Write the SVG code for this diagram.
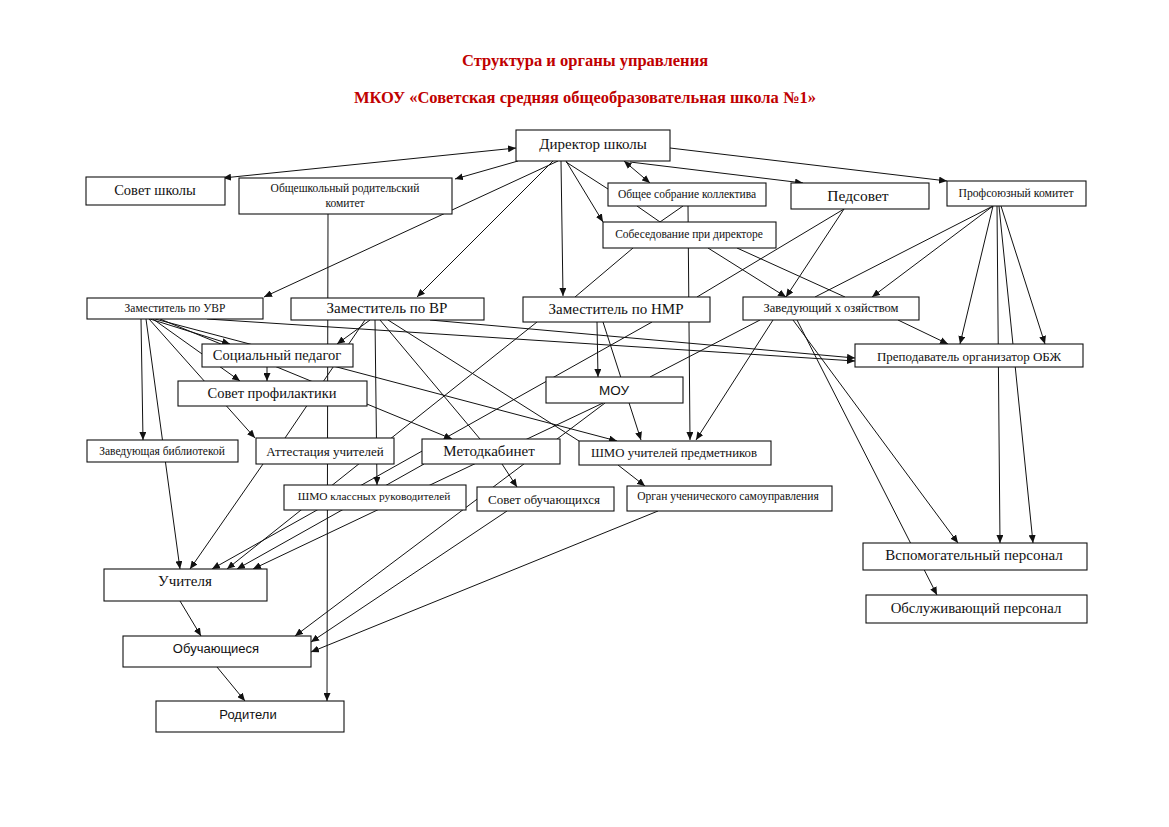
<svg xmlns="http://www.w3.org/2000/svg" width="1169" height="827" viewBox="0 0 1169 827">
<style>
.t{font-family:"Liberation Serif","Times New Roman",serif;fill:#111;text-anchor:middle;dominant-baseline:central}
.s{font-family:"Liberation Sans",Arial,sans-serif;fill:#111;text-anchor:middle;dominant-baseline:central}
.h{font-family:"Liberation Serif","Times New Roman",serif;fill:#c00000;font-weight:bold;font-size:16.5px;text-anchor:middle}
rect{fill:#fff;stroke:#111;stroke-width:1.1}
#connectors line{stroke:#111;stroke-width:1}
.e{marker-end:url(#ah)}
.b{marker-end:url(#ah);marker-start:url(#ah)}
</style>
<defs>
<marker id="ah" viewBox="0 0 8 7" refX="8" refY="3.5" markerWidth="8" markerHeight="7" markerUnits="userSpaceOnUse" orient="auto-start-reverse"><path d="M0,0 L8,3.5 L0,7 z" fill="#111"/></marker>
</defs>
<rect x="0" y="0" width="1169" height="827" style="fill:#fff;stroke:none"/>
<g id="title">
<text class="h" x="585" y="66">Структура и органы управления</text>
<text class="h" x="585" y="103">МКОУ «Советская средняя общеобразовательная школа №1»</text>
</g>
<g id="connectors">
<line class="b" x1="223" y1="178" x2="516" y2="148"/>
<line class="e" x1="518" y1="161" x2="455" y2="179"/>
<line class="e" x1="558" y1="161" x2="264" y2="297"/>
<line class="e" x1="553" y1="161" x2="417" y2="297"/>
<line class="e" x1="561" y1="161" x2="563" y2="296"/>
<line class="e" x1="566" y1="161" x2="603" y2="222"/>
<line x1="566" y1="162" x2="608" y2="189"/>
<line class="b" x1="624" y1="161" x2="650" y2="183"/>
<line class="e" x1="630" y1="162" x2="803" y2="183"/>
<line class="e" x1="670" y1="148" x2="947" y2="181"/>
<line x1="637" y1="206" x2="660" y2="222"/>
<line x1="683" y1="206" x2="660" y2="222"/>
<line class="e" x1="688" y1="206" x2="690" y2="440"/>
<line x1="633" y1="248" x2="575" y2="297"/>
<line class="e" x1="708" y1="248" x2="786" y2="297"/>
<line x1="737" y1="248" x2="845" y2="297"/>
<line x1="844" y1="209" x2="697" y2="297"/>
<line class="e" x1="844" y1="209" x2="786" y2="297"/>
<line x1="993" y1="206" x2="815" y2="297"/>
<line class="e" x1="993" y1="206" x2="872" y2="297"/>
<line class="e" x1="993" y1="206" x2="960" y2="344"/>
<line class="e" x1="997" y1="206" x2="1000" y2="543"/>
<line class="e" x1="999" y1="206" x2="1033" y2="543"/>
<line class="e" x1="1001" y1="206" x2="1045" y2="344"/>
<line x1="760" y1="320" x2="650" y2="377"/>
<line class="e" x1="773" y1="320" x2="696" y2="440"/>
<line class="e" x1="898" y1="320" x2="948" y2="344"/>
<line class="e" x1="793" y1="320" x2="958" y2="543"/>
<line class="e" x1="797" y1="320" x2="937" y2="595"/>
<line class="e" x1="141" y1="319" x2="143" y2="440"/>
<line class="e" x1="146" y1="319" x2="180" y2="569"/>
<line class="e" x1="150" y1="319" x2="230" y2="344"/>
<line class="e" x1="153" y1="319" x2="240" y2="381"/>
<line class="e" x1="149" y1="319" x2="255" y2="438"/>
<line class="e" x1="155" y1="319" x2="617" y2="441"/>
<line class="e" x1="160" y1="319" x2="452" y2="439"/>
<line class="e" x1="207" y1="319" x2="855" y2="361"/>
<line class="e" x1="267" y1="367" x2="267" y2="381"/>
<line class="e" x1="370" y1="320" x2="337" y2="344"/>
<line x1="365" y1="320" x2="285" y2="438"/>
<line class="e" x1="375" y1="320" x2="377" y2="485"/>
<line x1="380" y1="320" x2="480" y2="439"/>
<line x1="388" y1="320" x2="579" y2="441"/>
<line class="e" x1="430" y1="320" x2="855" y2="358"/>
<line class="e" x1="597" y1="322" x2="598" y2="377"/>
<line class="e" x1="603" y1="322" x2="641" y2="440"/>
<line class="e" x1="537" y1="322" x2="227" y2="569"/>
<line class="e" x1="652" y1="322" x2="212" y2="569"/>
<line class="e" x1="603" y1="403" x2="253" y2="569"/>
<line class="e" x1="605" y1="403" x2="295" y2="636"/>
<line class="e" x1="263" y1="464" x2="190" y2="569"/>
<line class="e" x1="424" y1="464" x2="237" y2="569"/>
<line class="e" x1="502" y1="464" x2="517" y2="487"/>
<line class="e" x1="618" y1="465" x2="645" y2="486"/>
<line class="e" x1="507" y1="511" x2="311" y2="642"/>
<line class="e" x1="658" y1="511" x2="311" y2="652"/>
<line class="e" x1="180" y1="601" x2="201" y2="636"/>
<line class="e" x1="217" y1="667" x2="245" y2="701"/>
<line class="e" x1="328" y1="214" x2="327" y2="701"/>
</g>
<g id="n-director"><rect x="516" y="130" width="154" height="31"/><text class="t" x="593" y="144" font-size="15">Директор школы</text></g>
<g id="n-sovet-shkoly"><rect x="86" y="177" width="139" height="28"/><text class="t" x="155" y="190" font-size="14.5">Совет школы</text></g>
<g id="n-roditelskiy"><rect x="239" y="178" width="213" height="36"/><text class="t" x="345" y="188" font-size="11.5">Общешкольный родительский</text><text class="t" x="345" y="203" font-size="11.5">комитет</text></g>
<g id="n-sobranie"><rect x="608" y="183" width="158" height="23"/><text class="t" x="687" y="194" font-size="11.5">Общее собрание  коллектива</text></g>
<g id="n-sobesedovanie"><rect x="603" y="222" width="173" height="26"/><text class="t" x="689" y="234" font-size="11.5">Собеседование  при директоре</text></g>
<g id="n-pedsovet"><rect x="791" y="183" width="138" height="26"/><text class="t" x="858" y="195" font-size="15.5">Педсовет</text></g>
<g id="n-profsoyuz"><rect x="947" y="181" width="139" height="25"/><text class="t" x="1016" y="193" font-size="11.7">Профсоюзный комитет</text></g>
<g id="n-uvr"><rect x="87" y="298" width="176" height="21"/><text class="t" x="175" y="308" font-size="11.5">Заместитель по УВР</text></g>
<g id="n-vr"><rect x="291" y="298" width="193" height="22"/><text class="t" x="387" y="308" font-size="15">Заместитель по ВР</text></g>
<g id="n-nmr"><rect x="523" y="297" width="187" height="25"/><text class="t" x="616" y="309" font-size="15">Заместитель по НМР</text></g>
<g id="n-zavhoz"><rect x="743" y="297" width="176" height="23"/><text class="t" x="831" y="308" font-size="12.5">Заведующий х озяйством</text></g>
<g id="n-obzh"><rect x="855" y="344" width="228" height="23"/><text class="t" x="969" y="356" font-size="13">Преподаватель организатор ОБЖ</text></g>
<g id="n-socped"><rect x="202" y="344" width="151" height="23"/><text class="t" x="277" y="355" font-size="14.5">Социальный педагог</text></g>
<g id="n-profilaktika"><rect x="178" y="381" width="189" height="25"/><text class="t" x="272" y="393" font-size="14.5">Совет профилактики</text></g>
<g id="n-mou"><rect x="546" y="377" width="137" height="26"/><text class="s" x="614" y="390" font-size="13.5">МОУ</text></g>
<g id="n-biblioteka"><rect x="87" y="440" width="151" height="22"/><text class="t" x="162" y="451" font-size="11.5">Заведующая  библиотекой</text></g>
<g id="n-attestaciya"><rect x="256" y="438" width="138" height="26"/><text class="t" x="325" y="451" font-size="13">Аттестация учителей</text></g>
<g id="n-metodkabinet"><rect x="422" y="439" width="138" height="25"/><text class="t" x="489" y="451" font-size="15">Методкабинет</text></g>
<g id="n-shmo-pred"><rect x="579" y="441" width="192" height="24"/><text class="t" x="674" y="453" font-size="12.8">ШМО учителей предметников</text></g>
<g id="n-shmo-kl"><rect x="284" y="485" width="182" height="25"/><text class="t" x="374" y="496" font-size="11.4">ШМО классных  руководителей</text></g>
<g id="n-sovet-obuch"><rect x="477" y="487" width="137" height="24"/><text class="t" x="544" y="499" font-size="13">Совет обучающихся</text></g>
<g id="n-organ"><rect x="627" y="486" width="205" height="25"/><text class="t" x="728" y="496" font-size="11.5">Орган ученического  самоуправления</text></g>
<g id="n-uchitelya"><rect x="104" y="569" width="163" height="32"/><text class="t" x="185" y="581" font-size="15">Учителя</text></g>
<g id="n-obuchayushchiesya"><rect x="123" y="636" width="188" height="31"/><text class="s" x="216" y="648" font-size="13">Обучающиеся</text></g>
<g id="n-roditeli"><rect x="156" y="701" width="188" height="31"/><text class="s" x="248" y="714" font-size="13">Родители</text></g>
<g id="n-vspomog"><rect x="863" y="543" width="224" height="27"/><text class="t" x="974" y="555" font-size="15">Вспомогательный персонал</text></g>
<g id="n-obsluzh"><rect x="866" y="595" width="221" height="28"/><text class="t" x="976" y="608" font-size="14.8">Обслуживающий персонал</text></g>
</svg>
